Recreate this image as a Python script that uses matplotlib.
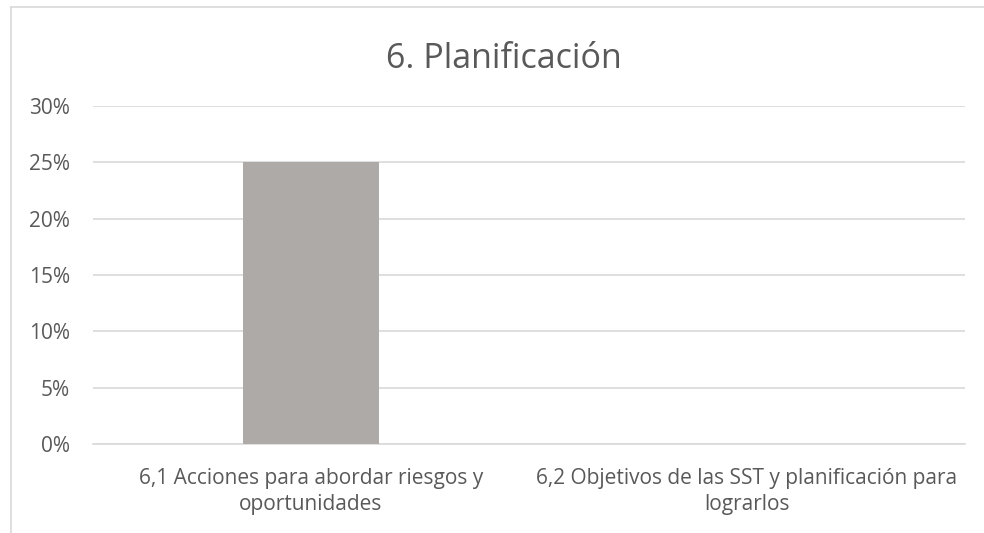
import matplotlib.pyplot as plt
from matplotlib.lines import Line2D
from matplotlib.ticker import PercentFormatter

plt.rcParams['font.family'] = ['Open Sans', 'DejaVu Sans']

categories = ['6,1 Acciones para abordar riesgos y\noportunidades',
              '6,2 Objetivos de las SST y planificación para\nlograrlos']
values = [0.25, 0.0]

fig = plt.figure(figsize=(9.84, 5.33), dpi=100)
ax = fig.add_axes([0.0945, 0.167, 0.8862, 0.634])

ax.bar(range(len(categories)), values, width=0.314, color='#ADAAA7', zorder=3)
ax.set_xlim(-0.5, len(categories) - 0.5)
ax.set_ylim(0, 0.30)
ax.set_yticks([i * 0.05 for i in range(7)])
ax.yaxis.set_major_formatter(PercentFormatter(1.0, decimals=0))
ax.set_xticks(range(len(categories)))
ax.set_xticklabels(categories, fontsize=15, color='#595959', linespacing=1.35)
ax.tick_params(axis='y', labelsize=15, labelcolor='#595959', length=0, pad=16.5)
ax.tick_params(axis='x', length=0, pad=17)
ax.grid(axis='y', color='#D9D9D9', linewidth=1.2, zorder=0)
for s in ['top', 'right', 'left']:
    ax.spines[s].set_visible(False)
ax.spines['bottom'].set_color('#D9D9D9')
ax.spines['bottom'].set_linewidth(1.2)

fig.text(0.512, 1 - 59 / 533, '6. Planificación', ha='center', va='center',
         fontsize=24.5, color='#595959')

# chart frame (cut off at right and bottom)
fig.add_artist(Line2D([11 / 984, 11 / 984], [0, 1 - 7 / 533], color='#D9D9D9', lw=1.2))
fig.add_artist(Line2D([11 / 984, 1], [1 - 7 / 533, 1 - 7 / 533], color='#D9D9D9', lw=1.2))

fig.savefig('out.png', dpi=100)
